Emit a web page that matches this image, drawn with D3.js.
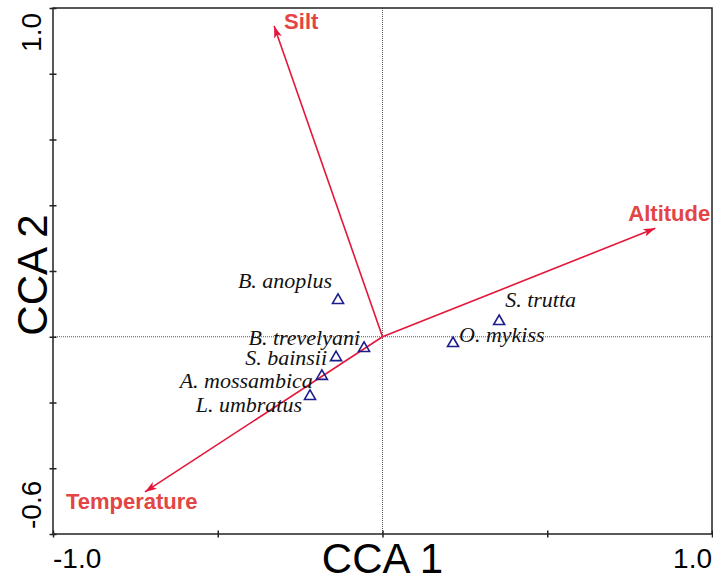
<!DOCTYPE html>
<html>
<head>
<meta charset="utf-8">
<script src="https://cdnjs.cloudflare.com/ajax/libs/d3/7.8.5/d3.min.js"></script>
<style>
  body { margin: 0; background: #fff; }
  svg { display: block; }
</style>
</head>
<body>
<script>
// environmental variables (arrow tips, CCA1/CCA2 scores)
var envNames = ["Silt", "Altitude", "Temperature"];
var envX = [-0.329, 0.828, -0.721];
var envY = [0.945, 0.330, -0.472];

// species scores
var spNames = ["B. anoplus", "B. trevelyani", "S. bainsii", "A. mossambica", "L. umbratus", "S. trutta", "O. mykiss"];
var spX = [-0.135, -0.056, -0.141, -0.184, -0.220, 0.354, 0.214];
var spY = [0.115, -0.031, -0.059, -0.116, -0.177, 0.051, -0.016];

var xTicks = [-1.0, -0.5, 0, 0.5, 1.0];
var yTicks = [-0.6, -0.4, -0.2, 0, 0.2, 0.4, 0.6, 0.8, 1.0];
var xTickLabels = ["-1.0", "1.0"];
var yTickLabels = ["-0.6", "1.0"];

// layout only: label offsets in pixels from each point / arrow tip
var envLabelOff = [[10, 3], [-27, -7], [-79, 17]];
var spLabelOff = [[-6, -11, "end"], [-4, -2, "end"], [-9, 9, "end"], [-9, 13, "end"], [-8, 17, "end"], [6, -13, "start"], [6, 0, "start"]];

var W = 713, H = 581;
var pL = 53, pR = 712, pT = 8, pB = 534;

var x = d3.scaleLinear().domain([-1, 1]).range([pL, pR]);
var y = d3.scaleLinear().domain([-0.6, 1.0]).range([pB, pT]);

var svg = d3.select("body").append("svg")
  .attr("width", W)
  .attr("height", H);

var red = "#e3173a";
var redText = "#e34444";
var navy = "#1c1c8c";
var sans = "Arial, 'Liberation Sans', sans-serif";

svg.append("defs").append("marker")
  .attr("id", "head")
  .attr("viewBox", "0 0 12 8")
  .attr("refX", 12)
  .attr("refY", 4)
  .attr("markerWidth", 12)
  .attr("markerHeight", 8)
  .attr("markerUnits", "userSpaceOnUse")
  .attr("orient", "auto")
  .append("path")
  .attr("d", "M0,0 L12,4 L0,8 L3,4 Z")
  .attr("fill", red);

// zero reference lines
svg.append("line")
  .attr("x1", x(0)).attr("x2", x(0))
  .attr("y1", pT).attr("y2", pB)
  .attr("stroke", "#555").attr("stroke-width", 1)
  .attr("stroke-dasharray", "1,1");
svg.append("line")
  .attr("x1", pL).attr("x2", pR)
  .attr("y1", y(0)).attr("y2", y(0))
  .attr("stroke", "#555").attr("stroke-width", 1)
  .attr("stroke-dasharray", "1,1");

// frame
svg.append("rect")
  .attr("x", pL).attr("y", pT)
  .attr("width", pR - pL).attr("height", pB - pT)
  .attr("fill", "none").attr("stroke", "#222").attr("stroke-width", 1.5);

// axes (ticks crossing the frame)
var xAxis = d3.axisBottom(x).tickValues(xTicks).tickSize(7).tickFormat("");
var yAxis = d3.axisLeft(y).tickValues(yTicks).tickSize(7).tickFormat("");

svg.append("g")
  .attr("transform", "translate(0," + (pB + 3.5) + ")")
  .call(xAxis)
  .call(function(g) {
    g.select(".domain").remove();
    g.selectAll(".tick line").attr("y1", -7).attr("y2", 0).attr("stroke", "#222").attr("stroke-width", 1.5);
  });

svg.append("g")
  .attr("transform", "translate(" + (pL - 3.5) + ",0)")
  .call(yAxis)
  .call(function(g) {
    g.select(".domain").remove();
    g.selectAll(".tick line").attr("x1", 7).attr("x2", 0).attr("stroke", "#222").attr("stroke-width", 1.5);
  });

// tick labels (only the ends)
svg.append("text")
  .attr("x", x(-1)).attr("y", 568)
  .attr("font-family", sans)
  .attr("font-size", 28)
  .attr("text-anchor", "start")
  .text(xTickLabels[0]);
svg.append("text")
  .attr("x", x(1)).attr("y", 568)
  .attr("font-family", sans)
  .attr("font-size", 28)
  .attr("text-anchor", "end")
  .text(xTickLabels[1]);
svg.append("text")
  .attr("transform", "translate(41," + (y(-0.6) - 5) + ") rotate(-90)")
  .attr("font-family", sans)
  .attr("font-size", 28)
  .attr("text-anchor", "start")
  .text(yTickLabels[0]);
svg.append("text")
  .attr("transform", "translate(41," + (y(1.0) + 5) + ") rotate(-90)")
  .attr("font-family", sans)
  .attr("font-size", 28)
  .attr("text-anchor", "end")
  .text(yTickLabels[1]);

// axis titles
svg.append("text")
  .attr("x", (pL + pR) / 2).attr("y", 573)
  .attr("font-family", sans)
  .attr("font-size", 42)
  .attr("text-anchor", "middle")
  .text("CCA 1");
svg.append("text")
  .attr("transform", "translate(47,275) rotate(-90)")
  .attr("font-family", sans)
  .attr("font-size", 42)
  .attr("text-anchor", "middle")
  .text("CCA 2");

// environmental arrows
var env = envNames.map(function(n, i) { return { name: n, x: envX[i], y: envY[i], off: envLabelOff[i] }; });

svg.selectAll(".env")
  .data(env)
  .enter()
  .append("line")
  .attr("class", "env")
  .attr("x1", x(0)).attr("y1", y(0))
  .attr("x2", d => x(d.x)).attr("y2", d => y(d.y))
  .attr("stroke", red).attr("stroke-width", 1.6)
  .attr("marker-end", "url(#head)");

svg.selectAll(".envlab")
  .data(env)
  .enter()
  .append("text")
  .attr("class", "envlab")
  .attr("x", d => x(d.x) + d.off[0])
  .attr("y", d => y(d.y) + d.off[1])
  .attr("font-family", sans)
  .attr("font-weight", "bold")
  .attr("font-size", 22)
  .attr("fill", redText)
  .text(d => d.name);

// species
var sp = spNames.map(function(n, i) { return { name: n, x: spX[i], y: spY[i], off: spLabelOff[i] }; });

svg.selectAll(".sp")
  .data(sp)
  .enter()
  .append("path")
  .attr("class", "sp")
  .attr("transform", d => "translate(" + x(d.x) + "," + y(d.y) + ")")
  .attr("d", "M0,-5 L5.5,4.5 L-5.5,4.5 Z")
  .attr("fill", "none")
  .attr("stroke", navy)
  .attr("stroke-width", 1.6);

svg.selectAll(".splab")
  .data(sp)
  .enter()
  .append("text")
  .attr("class", "splab")
  .attr("x", d => x(d.x) + d.off[0])
  .attr("y", d => y(d.y) + d.off[1])
  .attr("text-anchor", d => d.off[2])
  .attr("font-family", "'Times New Roman', 'Liberation Serif', serif")
  .attr("font-style", "italic")
  .attr("font-size", 22)
  .attr("fill", "#111")
  .text(d => d.name);
</script>
</body>
</html>
